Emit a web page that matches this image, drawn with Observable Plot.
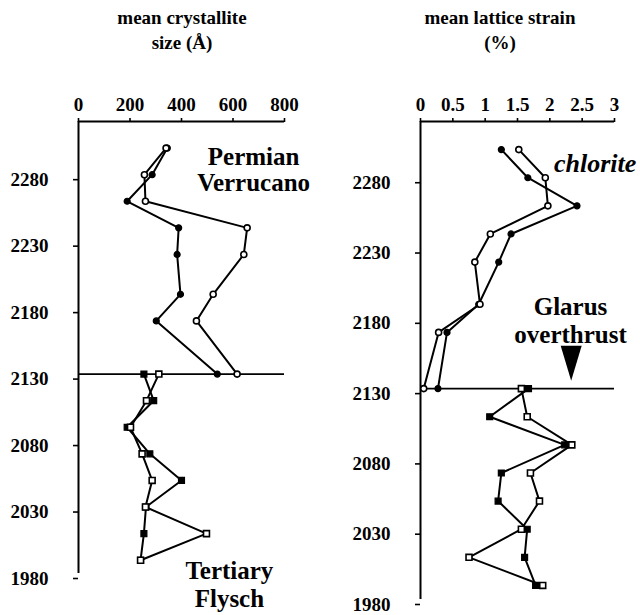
<!DOCTYPE html>
<html>
<head>
<meta charset="utf-8">
<script src="https://cdn.jsdelivr.net/npm/d3@7"></script>
<script src="https://cdn.jsdelivr.net/npm/@observablehq/plot@0.6"></script>
<style>
  html, body { margin: 0; padding: 0; background: #fff; }
  #wrap { position: relative; width: 640px; height: 615px; overflow: hidden; font-family: "Liberation Serif", "Times New Roman", serif; font-weight: bold; }
  .title { position: absolute; width: 260px; text-align: center; font-size: 19px; line-height: 25px; color: #000; }
  .panel { position: absolute; top: 0; }
</style>
</head>
<body>
<div id="wrap">
  <div class="title" style="left:52px; top:5px;">mean crystallite<br>size (Å)</div>
  <div class="title" style="left:370px; top:5px;">mean lattice strain<br>(%)</div>
  <div class="panel" id="left" style="left:0px;"></div>
  <div class="panel" id="right" style="left:320px;"></div>
</div>
<script>
// Elevations (m) of samples
const upperElev = [2300, 2280, 2260, 2240, 2220, 2190, 2170, 2130]; // Permian Verrucano
const lowerElev = [2130, 2110, 2090, 2070, 2050, 2030, 2010, 1990]; // Tertiary Flysch

// mean crystallite size (Å)
const sizeVerrFilled = [345, 286, 189, 389, 383, 396, 302, 539];
const sizeVerrOpen   = [340, 256, 260, 655, 642, 523, 458, 616];
const sizeFlyFilled  = [254, 292, 189, 277, 400, 262, 254, 241];
const sizeFlyOpen    = [312, 264, 202, 247, 286, 260, 497, 241];

// mean lattice strain (%)
const strainVerrFilled = [1.25, 1.66, 2.42, 1.40, 1.21, 0.90, 0.41, 0.27];
const strainVerrOpen   = [1.52, 1.93, 1.97, 1.08, 0.84, 0.92, 0.28, 0.05];
const strainFlyFilled  = [1.67, 1.07, 2.23, 1.25, 1.20, 1.65, 1.61, 1.78];
const strainFlyOpen    = [1.56, 1.65, 2.34, 1.70, 1.84, 1.56, 0.75, 1.89];

// ticks
const yTicks = [2280, 2230, 2180, 2130, 2080, 2030, 1980];
const sizeTicks = [0, 200, 400, 600, 800];
const strainTicks = [0, 0.5, 1, 1.5, 2, 2.5, 3];
const thrustElev = 2130;

function rows(vals, elev, series, shape, fill) {
  return vals.map((v, i) => ({ v, elev: elev[i], series, shape, fill }));
}

const downTriangle = {
  draw(ctx) {
    ctx.moveTo(-10.5, -17.5);
    ctx.lineTo(10.5, -17.5);
    ctx.lineTo(0, 17.5);
    ctx.closePath();
  }
};

function panel({ data, xDomain, xTicks, marginLeft, marginRight, marginBottom, height, labelDy, extra }) {
  const filled = data.filter(d => d.fill === "black");
  const open = data.filter(d => d.fill === "white");
  return Plot.plot({
    width: 320,
    height,
    marginTop: 121,
    marginBottom,
    marginLeft,
    marginRight,
    style: { fontFamily: "Liberation Serif, serif", fontWeight: "bold", fontSize: "19px", color: "#000", background: "transparent", overflow: "visible" },
    x: { domain: xDomain, label: null },
    y: { domain: [1980, 2320], label: null },
    marks: [
      Plot.ruleX([xDomain[0]], { y1: 1980, y2: 2320, stroke: "#000", strokeWidth: 2 }),
      Plot.ruleY([2320], { x1: xDomain[0], x2: xDomain[1], stroke: "#000", strokeWidth: 1.8 }),
      Plot.ruleY([thrustElev], { x1: xDomain[0], x2: xDomain[1], stroke: "#000", strokeWidth: 1.6 }),
      Plot.axisX({ anchor: "top", label: null, ticks: xTicks, tickFormat: d => String(d), tickSize: 4, tickPadding: 7, fontSize: 19, fontWeight: "bold", strokeWidth: 1.6 }),
      Plot.axisY({ anchor: "left", label: null, ticks: yTicks, tickFormat: d => String(d), tickSize: 5, tickPadding: 25, dy: labelDy, fontSize: 19, fontWeight: "bold", strokeWidth: 1.6 }),
      Plot.line(data, { x: "v", y: "elev", z: "series", stroke: "#000", strokeWidth: 2 }),
      Plot.dot(filled, { x: "v", y: "elev", symbol: "shape", r: d => d.shape === "square" ? 5 : 4, fill: "#000", stroke: "#000", strokeWidth: 1.2 }),
      Plot.dot(open, { x: "v", y: "elev", symbol: "shape", r: d => d.shape === "square" ? 5 : 4, fill: "#fff", stroke: "#000", strokeWidth: 1.6 }),
      ...extra
    ]
  });
}

const leftData = [
  ...rows(sizeVerrFilled, upperElev, "vf", "circle", "black"),
  ...rows(sizeVerrOpen, upperElev, "vo", "circle", "white"),
  ...rows(sizeFlyFilled, lowerElev, "ff", "square", "black"),
  ...rows(sizeFlyOpen, lowerElev, "fo", "square", "white")
];
const rightData = [
  ...rows(strainVerrFilled, upperElev, "vf", "circle", "black"),
  ...rows(strainVerrOpen, upperElev, "vo", "circle", "white"),
  ...rows(strainFlyFilled, lowerElev, "ff", "square", "black"),
  ...rows(strainFlyOpen, lowerElev, "fo", "square", "white")
];

const left = panel({
  data: leftData, xDomain: [0, 800], xTicks: sizeTicks,
  marginLeft: 78, marginRight: 36, marginBottom: 42, height: 615, labelDy: 5,
  extra: [
    Plot.text(["Permian\nVerrucano"], { x: 680, y: 2284, fontSize: 25, fontWeight: "bold", lineHeight: 1.04, fill: "#000" }),
    Plot.text(["Tertiary\nFlysch"], { x: 586, y: 1972, fontSize: 25, fontWeight: "bold", lineHeight: 1.1, fill: "#000" })
  ]
});
const right = panel({
  data: rightData, xDomain: [0, 3], xTicks: strainTicks,
  marginLeft: 100, marginRight: 26, marginBottom: 16, height: 615, labelDy: 5,
  extra: [
    Plot.text(["chlorite"], { x: 2.70, y: 2290, fontSize: 26, fontWeight: "bold", fontStyle: "italic", fill: "#000" }),
    Plot.text(["Glarus\noverthrust"], { x: 2.32, y: 2179, fontSize: 25, fontWeight: "bold", lineHeight: 1.12, fill: "#000" }),
    Plot.dot([thrustElev], { x: () => 2.33, y: () => 2148, symbol: downTriangle, fill: "#000", stroke: "none" })
  ]
});
document.getElementById("left").appendChild(left);
document.getElementById("right").appendChild(right);
</script>
</body>
</html>
